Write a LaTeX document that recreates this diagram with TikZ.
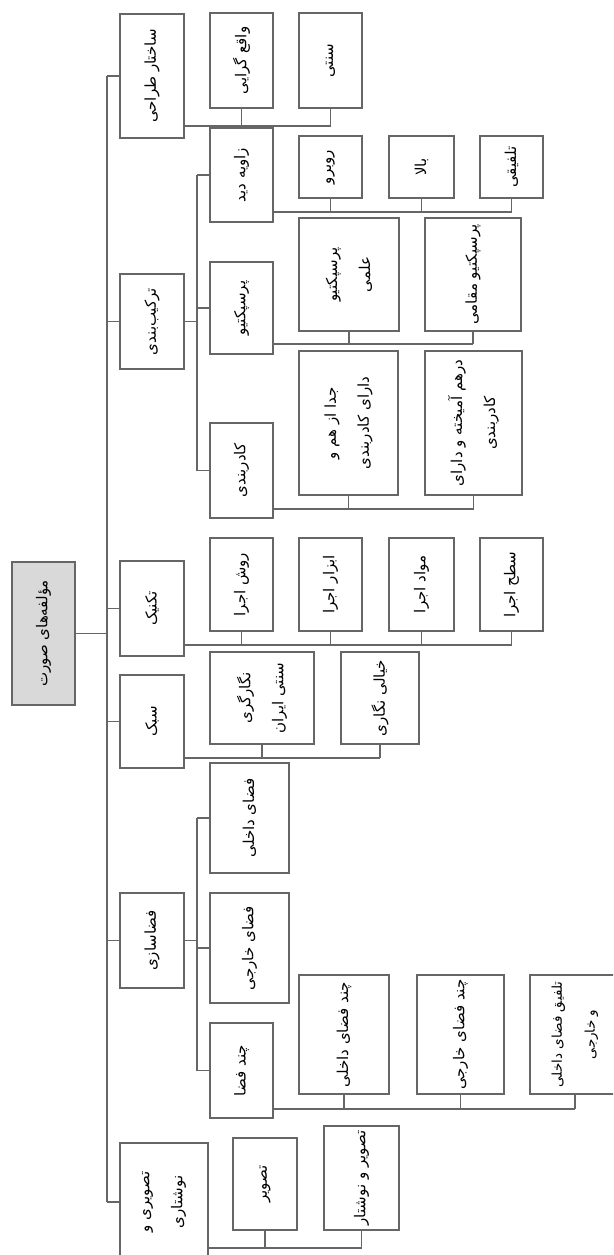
\documentclass[tikz,border=0pt]{standalone}
\usepackage{fontspec}
\newfontfamily\farsi[Script=Arabic]{DejaVu Sans}
\TeXXeTstate=1
\usetikzlibrary{positioning}

\begin{document}
\begin{tikzpicture}[x=1pt, y=1pt]
  \tikzset{
    box/.style={draw=black!60, line width=1.1pt, rotate=90, inner sep=1pt, align=center, font=\farsi\fontsize{15}{33}\selectfont},
    rootbox/.style={box, fill=black!15},
    link/.style={draw=black!60, line width=1.1pt}
  }
  \useasboundingbox (0,0) rectangle (613,-1255);
  \clip (0,0) rectangle (613,-1255);

  % root and first level (minimum height = across, minimum width = along the text)
  \node[rootbox, minimum height=63, minimum width=143] (root) at (43.5,-633.5) {\beginR مؤلفه‌های صورت\endR};
  \node[box, minimum height=64, minimum width=124] (sakhtar) at (152,-76) {\beginR ساختار طراحی\endR};
  \node[box, minimum height=64, minimum width=95] (tarkib) at (152,-321.5) {\beginR ترکیب‌بندی\endR};
  \node[box, minimum height=64, minimum width=95] (technic) at (152,-608.5) {\beginR تکنیک\endR};
  \node[box, minimum height=64, minimum width=93] (sabk) at (152,-721.5) {\beginR سبک\endR};
  \node[box, minimum height=64, minimum width=95] (fazasazi) at (152,-940.5) {\beginR فضاسازی\endR};
  \node[box, minimum height=88, minimum width=118] (tasviri) at (164,-1202) {\beginR تصویری و\endR\\\beginR نوشتاری\endR};

  % sakhtar
  \node[box, minimum height=63, minimum width=95] (vaghe) at (241.5,-60.5) {\beginR واقع گرایی\endR};
  \node[box, minimum height=63, minimum width=95] (sonnati) at (330.5,-60.5) {\beginR سنتی\endR};

  % tarkib
  \node[box, minimum height=63, minimum width=94] (zavie) at (241.5,-175) {\beginR زاویه دید\endR};
  \node[box, minimum height=63, minimum width=92] (perspective) at (241.5,-308) {\beginR پرسپکتیو\endR};
  \node[box, minimum height=63, minimum width=95] (kadr) at (241.5,-470.5) {\beginR کادربندی\endR};
  \node[box, minimum height=63, minimum width=62] (rooberoo) at (330.5,-167) {\beginR روبرو\endR};
  \node[box, minimum height=65, minimum width=62] (bala) at (421.5,-167) {\beginR بالا\endR};
  \node[box, minimum height=63, minimum width=62] (talfighi) at (511.5,-167) {\beginR تلفیقی\endR};
  \node[box, minimum height=100, minimum width=113] (elmi) at (349,-274.5) {\beginR پرسپکتیو\endR\\\beginR علمی\endR};
  \node[box, minimum height=96, minimum width=113] (maghami) at (473,-274.5) {\beginR پرسپکتیو مقامی\endR};
  \node[box, minimum height=99, minimum width=144] (joda) at (348.5,-423) {\beginR جدا از هم و\endR\\\beginR دارای کادربندی\endR};
  \node[box, minimum height=97, minimum width=144] (darham) at (473.5,-423) {\beginR درهم آمیخته و دارای\endR\\\beginR کادربندی\endR};

  % technic
  \node[box, minimum height=63, minimum width=93] (ravesh) at (241.5,-584.5) {\beginR روش اجرا\endR};
  \node[box, minimum height=63, minimum width=93] (abzar) at (330.5,-584.5) {\beginR ابزار اجرا\endR};
  \node[box, minimum height=65, minimum width=93] (mavad) at (421.5,-584.5) {\beginR مواد اجرا\endR};
  \node[box, minimum height=63, minimum width=93] (sath) at (511.5,-584.5) {\beginR سطح اجرا\endR};

  % sabk
  \node[box, minimum height=104, minimum width=92] (negargari) at (262,-698) {\beginR نگارگری\endR\\\beginR سنتی ایران\endR};
  \node[box, minimum height=78, minimum width=92] (khiali) at (380,-698) {\beginR خیالی نگاری\endR};

  % fazasazi
  \node[box, minimum height=79, minimum width=110] (dakheli) at (249.5,-818) {\beginR فضای داخلی\endR};
  \node[box, minimum height=79, minimum width=110] (khareji) at (249.5,-948) {\beginR فضای خارجی\endR};
  \node[box, minimum height=63, minimum width=95] (chand) at (241.5,-1070.5) {\beginR چند فضا\endR};
  \node[box, minimum height=90, minimum width=119] (chanddakheli) at (344,-1034.5) {\beginR چند فضای داخلی\endR};
  \node[box, minimum height=87, minimum width=119] (chandkhareji) at (460.5,-1034.5) {\beginR چند فضای خارجی\endR};
  \node[box, minimum height=90, minimum width=119, font=\farsi\fontsize{13.5}{33}\selectfont] (talfigh) at (575,-1034.5) {\beginR تلفیق فضای داخلی\endR\\\beginR و خارجی\endR};

  % tasviri
  \node[box, minimum height=64, minimum width=92] (tasvir) at (265,-1184) {\beginR تصویر\endR};
  \node[box, minimum height=75, minimum width=104] (neveshtar) at (361.5,-1178) {\beginR تصویر و نوشتار\endR};

  % trunks
  \coordinate (trunk) at (107,0);
  \coordinate (subtrunk) at (197,0);
  \draw[link] (root.south) -- (root.south -| trunk);
  \draw[link] (sakhtar.north -| trunk) -- (tasviri.north -| trunk);
  \foreach \n in {sakhtar,tarkib,technic,sabk,fazasazi,tasviri}
    \draw[link] (\n.north) -- (\n.north -| trunk);
  \draw[link] (tarkib.south) -- (tarkib.south -| subtrunk);
  \draw[link] (zavie.north -| subtrunk) -- (kadr.north -| subtrunk);
  \foreach \n in {zavie,perspective,kadr}
    \draw[link] (\n.north) -- (\n.north -| subtrunk);
  \draw[link] (fazasazi.south) -- (fazasazi.south -| subtrunk);
  \draw[link] (dakheli.north -| subtrunk) -- (chand.north -| subtrunk);
  \foreach \n in {dakheli,khareji,chand}
    \draw[link] (\n.north) -- (\n.north -| subtrunk);

  % buses
  \foreach \p/\last/\y/\kids in {sakhtar/sonnati/126/{vaghe,sonnati},
      zavie/talfighi/212/{rooberoo,bala,talfighi},
      perspective/maghami/344/{elmi,maghami},
      kadr/darham/509/{joda,darham},
      technic/sath/645/{ravesh,abzar,mavad,sath},
      sabk/khiali/758/{negargari,khiali},
      chand/talfigh/1109/{chanddakheli,chandkhareji,talfigh},
      tasviri/neveshtar/1248/{tasvir,neveshtar}} {
    \coordinate (bus) at (0,-\y);
    \draw[link] (\p.south |- bus) -- (\last.west |- bus);
    \foreach \k in \kids
      \draw[link] (\k.west) -- (\k.west |- bus);
  }
\end{tikzpicture}
\end{document}
